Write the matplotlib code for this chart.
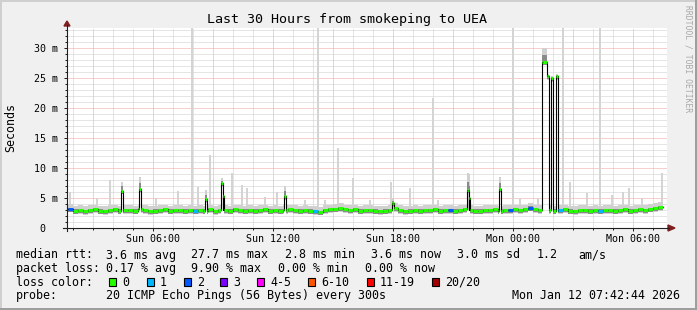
import numpy as np
import matplotlib
matplotlib.use("Agg")
import matplotlib.pyplot as plt
from matplotlib.patches import Rectangle, Polygon

plt.rcParams['font.family'] = 'DejaVu Sans Mono'

# x axis is hours since Sun 00:00, the graph covers the 30 h up to Mon 07:42:44
t_end = 31 + 42 / 60 + 44 / 3600
t_start = t_end - 30

# median rtt (ms), one value per 15 minutes starting Sun 01:45
base_start = 1.75
base_median = [
    3.2, 2.9, 3.0, 2.8, 3.0, 3.1, 2.9, 2.8, 3.0, 3.1, 2.9, 3.0,
    3.0, 2.9, 3.1, 3.0, 2.8, 2.9, 3.0, 3.1, 2.9, 3.0, 3.0, 2.9,
    3.0, 2.9, 3.0, 2.9, 3.1, 2.8, 3.0, 3.0, 2.9, 3.1, 3.0, 2.9,
    3.0, 2.9, 3.0, 3.1, 2.9, 3.0, 2.9, 3.0, 3.1, 3.0, 2.9, 3.0,
    2.9, 2.8, 2.7, 3.0, 3.1, 3.2, 3.3, 3.1, 3.0, 3.1, 2.9, 3.0,
    3.0, 2.9, 2.8, 2.9, 3.0, 3.3, 3.0, 2.8, 2.9, 3.0, 2.9, 3.0,
    3.0, 3.1, 2.9, 3.0, 3.0, 2.9, 3.0, 3.1, 3.0, 2.9, 2.9, 3.0,
    3.0, 3.1, 2.9, 3.0, 3.0, 3.1, 3.0, 3.1, 3.4, 3.1, 3.0, 3.0,
    3.0, 2.9, 3.0, 3.1, 2.9, 2.8, 3.0, 3.0, 2.9, 3.0, 2.9, 3.0,
    3.0, 2.9, 3.0, 3.1, 2.9, 3.0, 3.1, 3.0, 3.2, 3.3, 3.5,
]

# 15 minute slots that lost pings
loss_hour = [1.75, 8.0, 14.0, 20.75, 23.75, 24.75, 26.25, 28.25]
loss_count = [2, 1, 1, 2, 2, 2, 1, 1]

# short latency spikes: start hour, median ms, top of smoke ms, length in minutes
spike_hour = [4.41, 5.31, 8.61, 9.41, 9.50, 12.56, 17.96, 21.71, 21.80, 23.31, 25.46, 25.71, 25.91, 26.16]
spike_median = [6.2, 6.5, 4.8, 7.5, 5.3, 5.3, 4.1, 6.3, 5.0, 6.5, 27.7, 25.3, 25.0, 25.3]
spike_top = [7.7, 8.5, 6.3, 8.3, 7.0, 7.0, 5.0, 9.2, 9.0, 8.5, 30.0, 25.7, 25.4, 25.7]
spike_len = [5, 5, 5, 5, 5, 5, 5, 5, 5, 5, 15, 5, 5, 5]

# single slow pings (light grey smoke): hour, top ms
outlier_hour = [1.86, 3.21, 3.86, 6.16, 7.26, 7.96, 8.26, 8.86, 9.96, 10.46, 10.71, 11.61,
                12.21, 13.61, 14.26, 14.61, 15.26, 15.51, 16.01, 16.86, 17.91, 18.86, 20.01,
                20.26, 21.81, 24.01, 24.36, 25.26, 26.51, 26.86, 27.71, 28.36, 28.96, 29.51,
                29.81, 30.46, 31.46]
outlier_top = [6.0, 5.0, 8.0, 5.0, 6.2, 40, 6.8, 12.2, 9.2, 7.2, 6.7, 5.2,
               6.0, 4.7, 40, 4.7, 13.3, 4.2, 8.3, 4.7, 7.7, 6.7, 21.7,
               4.7, 9.0, 40, 5.0, 5.0, 40, 7.7, 5.8, 40, 5.5, 6.0,
               6.7, 5.0, 9.2]

loss_labels = ['0', '1', '2', '3', '4-5', '6-10', '11-19', '20/20']
loss_colors = ['#26ff00', '#00b8ff', '#0059ff', '#7e00ff', '#ff00ff', '#ff5500', '#ff0000', '#a10000']

# merge the 15 minute baseline with the spikes into one step series
edges = base_start + 0.25 * np.arange(len(base_median) + 1)
sp_t0 = np.array(spike_hour)
sp_t1 = sp_t0 + np.array(spike_len) / 60
breaks = np.unique(np.round(np.concatenate([edges, sp_t0, sp_t1]), 4))
mids = (breaks[:-1] + breaks[1:]) / 2
idx = np.clip(((mids - base_start) // 0.25).astype(int), 0, len(base_median) - 1)
val = np.array(base_median)[idx]
base_loss = np.zeros(len(base_median), int)
for h, c in zip(loss_hour, loss_count):
    base_loss[int(round((h - base_start) / 0.25))] = c
loss = base_loss[idx]
top = np.full(len(val), np.nan)
for i in range(len(sp_t0)):
    m = (mids > sp_t0[i]) & (mids < sp_t1[i])
    val[m] = spike_median[i]
    top[m] = spike_top[i]
    loss[m] = 0

light_lo = val - 0.6
light_hi = np.where(np.isnan(top), val + 0.8, top)
dark_lo = val - 0.5
dark_hi = np.where(np.isnan(top), val + 0.2, (val + top) / 2)

def ext(a):
    return np.append(a, a[-1])

fig = plt.figure(figsize=(6.97, 3.10), dpi=100, facecolor='#f0f0f0')
ax = fig.add_axes([67 / 697, 1 - 228 / 310, 600 / 697, 200 / 310])
ax.set_facecolor('white')
ax.set_xlim(t_start, t_end)
ax.set_ylim(0, 200 / 6)

# grid
for h in range(2, 32):
    c = '#eea0a0' if h % 3 == 0 else '#cdcdcd'
    ax.axvline(h, color=c, lw=0.72, ls=(0, (1, 1)), zorder=1)
for v in range(1, 34):
    c = '#eea0a0' if v % 5 == 0 else '#cdcdcd'
    ax.axhline(v, color=c, lw=0.72, ls=(0, (1, 1)), zorder=1)

# smoke
ax.vlines(outlier_hour, 3, outlier_top, color='#d4d4d4', lw=1.44, zorder=2)
ax.fill_between(breaks, ext(light_lo), ext(light_hi), step='post', color='#d0d0d0', lw=0, zorder=3)
ax.fill_between(breaks, ext(dark_lo), ext(dark_hi), step='post', color='#8a8a8a', lw=0, zorder=3)

# median
ax.step(breaks, ext(val), where='post', color='black', lw=0.8, zorder=4)
ax.hlines(val, breaks[:-1], breaks[1:], colors=[loss_colors[min(c, 7)] for c in loss],
          lw=2.2, zorder=5)

ax.set_xticks([6, 12, 18, 24, 30], ['Sun 06:00', 'Sun 12:00', 'Sun 18:00', 'Mon 00:00', 'Mon 06:00'])
ax.set_xticks(range(2, 32), minor=True)
ax.set_yticks(range(0, 35, 5), ['0  ', '5 m', '10 m', '15 m', '20 m', '25 m', '30 m'])
ax.set_yticks(range(1, 34), minor=True)
ax.tick_params(which='both', direction='out', color='#1f1f1f', width=0.72, labelsize=7.2)
ax.tick_params(which='major', length=2.2)
ax.tick_params(which='minor', length=1.44)
ax.tick_params(axis='x', pad=2)
ax.tick_params(axis='y', pad=4)
for s in ax.spines.values():
    s.set_visible(False)

# overlay in pixel coordinates for axes, frame and legend
ov = fig.add_axes([0, 0, 1, 1], zorder=5)
ov.set_xlim(0, 697)
ov.set_ylim(310, 0)
ov.axis('off')

ov.plot([0, 697], [0.5, 0.5], color='#cfcfcf', lw=1.44)
ov.plot([0.5, 0.5], [0, 310], color='#cfcfcf', lw=1.44)
ov.plot([0, 697], [309, 309], color='#9e9e9e', lw=1.44)
ov.plot([696, 696], [0, 310], color='#9e9e9e', lw=1.44)

ov.plot([63, 669], [228, 228], color='#1f1f1f', lw=0.8)
ov.plot([67, 67], [231, 25], color='#1f1f1f', lw=0.8)
ov.add_patch(Polygon([(668, 225), (668, 231), (675, 228)], color='#7f1f1f'))
ov.add_patch(Polygon([(64, 26), (70, 26), (67, 21)], color='#7f1f1f'))

ov.text(347, 23, 'Last 30 Hours from smokeping to UEA', fontsize=9.6, ha='center', va='baseline')
ov.text(11, 127, 'Seconds', fontsize=8.4, rotation=90, ha='center', va='center')
ov.text(688, 59, 'RRDTOOL / TOBI OETIKER', fontsize=5.8, rotation=270, ha='center', va='center',
        color='#a8a8a8')

rows = [
    [(16, 'median rtt:'), (106, '3.6 ms avg'), (191, '27.7 ms max'), (285, '2.8 ms min'),
     (371, '3.6 ms now'), (457, '3.0 ms sd'), (537, '1.2'), (578, 'am/s')],
    [(16, 'packet loss:'), (106, '0.17 % avg'), (191, '9.90 % max'), (278, '0.00 % min'),
     (365, '0.00 % now')],
    [(16, 'loss color:')],
    [(16, 'probe:'), (106, '20 ICMP Echo Pings (56 Bytes) every 300s'),
     (512, 'Mon Jan 12 07:42:44 2026')],
]
row_y = [258.5, 272, 285.5, 299]
for items, y in zip(rows, row_y):
    for x, s in items:
        ov.text(x, y, s, fontsize=8.4, ha='left', va='baseline')

box_x = [108, 146, 183, 219, 256, 307, 366, 431]
for bx, lab, col in zip(box_x, loss_labels, loss_colors):
    ov.add_patch(Rectangle((bx + 0.5, 278), 7.5, 7.5, facecolor=col, edgecolor='black', lw=0.8))
    ov.text(bx + 14, 285.5, lab, fontsize=8.4, ha='left', va='baseline')

plt.savefig('out.png', dpi=100, facecolor=fig.get_facecolor())
